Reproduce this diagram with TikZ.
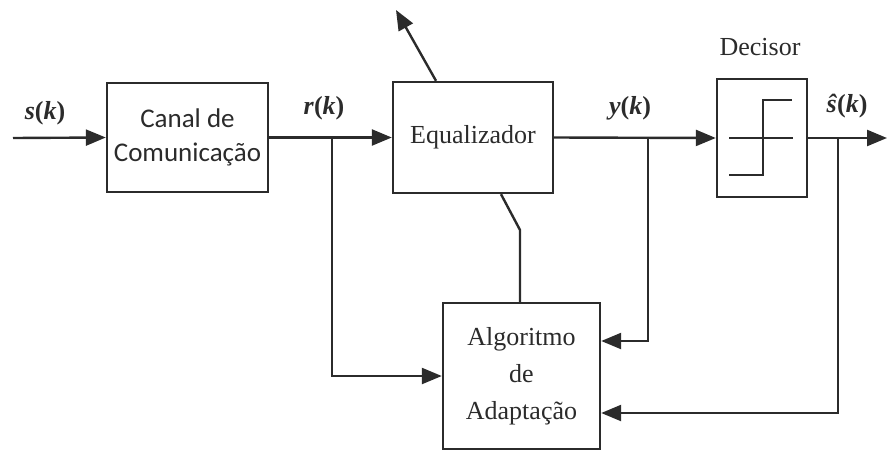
\documentclass[tikz,border=0pt]{standalone}
\usepackage{fontspec}
\setmainfont{Liberation Serif}
\newfontfamily\tnr{Liberation Serif}
\newfontfamily\calfont{Carlito}
\usetikzlibrary{arrows.meta}
\definecolor{ink}{HTML}{2B2B2B}
\begin{document}
\begin{tikzpicture}[x=1pt,y=-1pt,
  line width=2.4pt, draw=ink,
  block/.style={draw=ink, line width=2.4pt, fill=white, inner sep=0pt, text=ink},
  arr/.style={-{Triangle[length=20pt,width=16pt]}},
  lbl/.style={text=ink, inner sep=0pt, font=\tnr\fontsize{26}{30}\selectfont\bfseries\itshape},
  serif/.style={font=\tnr\fontsize{26}{37}\selectfont, align=center}]
\useasboundingbox (0,0) rectangle (888,450);
% blocks
\node[block, minimum width=161pt, minimum height=109pt, align=center,
  font=\calfont\fontsize{27}{34}\selectfont] (canal) at (187.5,137.5) {Canal de\\Comunica\c{c}\~ao};
\node[block, serif, minimum width=160pt, minimum height=111pt] (eq) at (473,137.5) {Equalizador};
\node[block, minimum width=90pt, minimum height=118pt] (dec) at (762,138) {};
\node[block, serif, minimum width=157pt, minimum height=146pt] (algo) at (521.5,376) {Algoritmo\\de\\Adapta\c{c}\~ao};
% decisor symbol
\draw[line width=2.2pt] ([xshift=-33pt]dec.center) -- ([xshift=31pt]dec.center);
\draw[line width=2.2pt] ([shift={(-33pt,-37pt)}]dec.center) -- ([shift={(1pt,-37pt)}]dec.center)
  -- ([shift={(1pt,38pt)}]dec.center) -- ([shift={(30pt,38pt)}]dec.center);
\node[text=ink, inner sep=0pt, font=\tnr\fontsize{26}{30}\selectfont] (declbl) at (760,47) {Decisor};
% coordinates
\coordinate (in) at (13,138);
\coordinate (out) at (887,138);
\coordinate (rb) at (332,138);
\coordinate (yb) at (648,138);
\coordinate (sb) at (838,138);
\coordinate (k1) at (520,230);
\coordinate (up) at (396,10);
% main path
\draw[arr] (in) -- (canal.west);
\draw[arr] (canal.east) -- (eq.west);
\draw[arr] (eq.east) -- (dec.west);
\draw[arr] (dec.east) -- (out);
% feedback paths
\draw[arr] (rb) |- (algo.west);
\draw[arr] (yb) |- ([yshift=35pt]algo.east);
\draw[arr] (sb) |- ([yshift=-37pt]algo.east);
\draw ([xshift=28pt]eq.south) -- (k1) -- (k1 |- algo.north);
\draw[arr] ([xshift=-37pt]eq.north) -- (up);
% labels
\node[lbl] (sl) at (45,113) {s\textup{(}k\textup{)}};
\node[lbl] (rl) at (324,108) {r\textup{(}k\textup{)}};
\node[lbl] (yl) at (630,108) {y\textup{(}k\textup{)}};
\node[lbl] (shl) at (847,106) {ŝ\textup{(}k\textup{)}};
\end{tikzpicture}
\end{document}
